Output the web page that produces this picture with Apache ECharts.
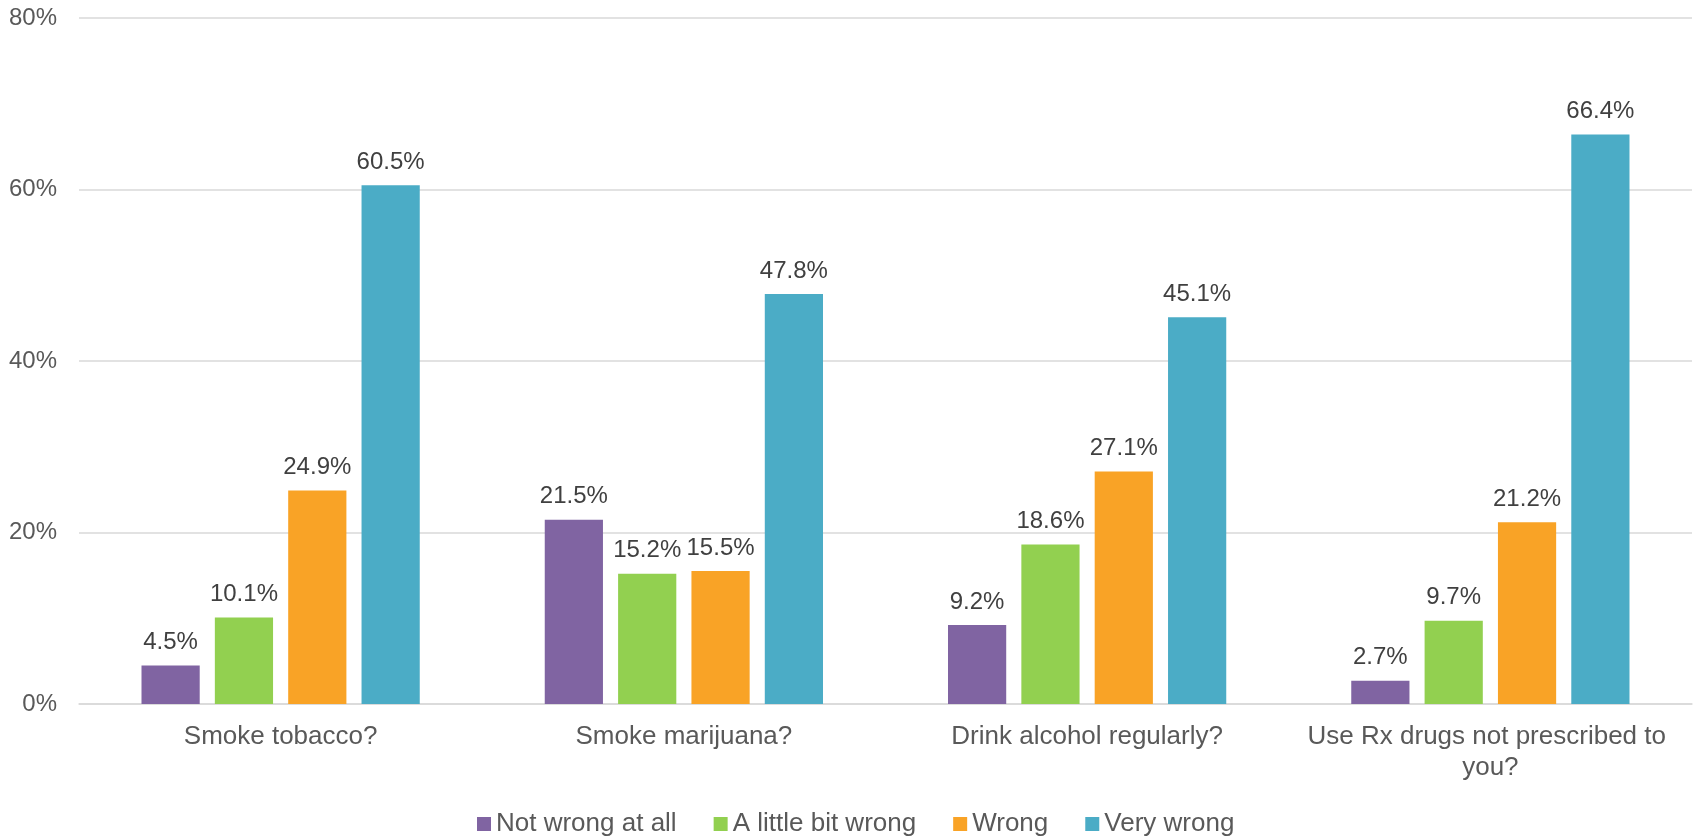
<!DOCTYPE html>
<html>
<head>
<meta charset="utf-8">
<title>Attitudes toward substance use</title>
<script src="https://cdn.jsdelivr.net/npm/echarts@6/dist/echarts.min.js"></script>
<style>
  html, body { margin: 0; padding: 0; background: #ffffff; }
  #chart { width: 1696px; height: 836px; }
</style>
</head>
<body>
<div id="chart"></div>
<script>
// Question asked for each behaviour: "How wrong do you think it is for someone your age to ..."
const categories = [
  'Smoke tobacco?',
  'Smoke marijuana?',
  'Drink alcohol regularly?',
  'Use Rx drugs not prescribed to you?'
];

const seriesNames = ['Not wrong at all', 'A little bit wrong', 'Wrong', 'Very wrong'];

// Percent of respondents per answer
const notWrongAtAll   = [4.5, 21.5, 9.2, 2.7];
const aLittleBitWrong = [10.1, 15.2, 18.6, 9.7];
const wrong           = [24.9, 15.5, 27.1, 21.2];
const veryWrong       = [60.5, 47.8, 45.1, 66.4];

const yTicks = [0, 20, 40, 60, 80];

const colors = ['#8064A2', '#92D050', '#F9A326', '#4BACC6'];
const values = [notWrongAtAll, aLittleBitWrong, wrong, veryWrong];

const fontFamily = '"Liberation Sans", Arial, sans-serif';

const chart = echarts.init(document.getElementById('chart'), null, { renderer: 'canvas' });

chart.setOption({
  animation: false,
  backgroundColor: '#ffffff',
  textStyle: { fontFamily: fontFamily },
  grid: { left: 79, right: 4, top: 18, bottom: 132, containLabel: false },
  legend: {
    left: 472,
    top: 806,
    itemWidth: 14,
    itemHeight: 14,
    itemGap: 37,
    icon: 'rect',
    data: seriesNames,
    textStyle: { fontFamily: fontFamily, fontSize: 26, color: '#595959' }
  },
  xAxis: {
    type: 'category',
    data: categories,
    axisTick: { show: false },
    axisLine: { show: true, lineStyle: { color: '#D9D9D9', width: 1.5 } },
    axisLabel: {
      interval: 0,
      margin: 17,
      fontSize: 26,
      lineHeight: 31,
      color: '#595959',
      width: 392,
      overflow: 'break',
      fontFamily: fontFamily
    }
  },
  yAxis: {
    type: 'value',
    min: yTicks[0],
    max: yTicks[yTicks.length - 1],
    interval: yTicks[1] - yTicks[0],
    axisLine: { show: false },
    axisTick: { show: false },
    splitLine: { lineStyle: { color: '#D9D9D9', width: 1.5 } },
    axisLabel: {
      margin: 22,
      fontSize: 24,
      color: '#595959',
      fontFamily: fontFamily,
      formatter: v => v + '%'
    }
  },
  series: seriesNames.map((name, i) => ({
    name: name,
    type: 'bar',
    data: values[i],
    barGap: '26%',
    barCategoryGap: '31%',
    itemStyle: { color: colors[i] },
    label: {
      show: true,
      position: 'top',
      distance: 11,
      fontSize: 24,
      color: '#404040',
      fontFamily: fontFamily,
      formatter: p => p.value.toFixed(1) + '%'
    }
  }))
});
</script>
</body>
</html>
